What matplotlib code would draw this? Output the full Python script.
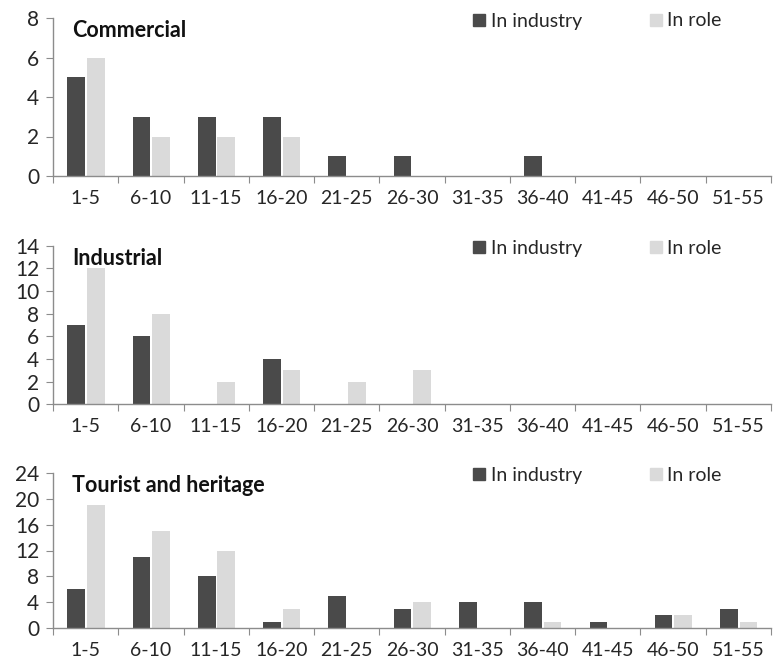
import matplotlib
matplotlib.use("Agg")
import matplotlib.pyplot as plt
import numpy as np
from matplotlib.ticker import FixedLocator, MultipleLocator
from matplotlib.transforms import offset_copy
from matplotlib.lines import Line2D

plt.rcParams['font.family'] = ['Lato', 'DejaVu Sans']

categories = ["1-5", "6-10", "11-15", "16-20", "21-25", "26-30",
              "31-35", "36-40", "41-45", "46-50", "51-55"]

commercial_industry = [5, 3, 3, 3, 1, 1, 0, 1, 0, 0, 0]
commercial_role = [6, 2, 2, 2, 0, 0, 0, 0, 0, 0, 0]

industrial_industry = [7, 6, 0, 4, 0, 0, 0, 0, 0, 0, 0]
industrial_role = [12, 8, 2, 3, 2, 3, 0, 0, 0, 0, 0]

tourist_industry = [6, 11, 8, 1, 5, 3, 4, 4, 1, 2, 3]
tourist_role = [19, 15, 12, 3, 0, 4, 0, 1, 0, 2, 1]

series_names = ["In industry", "In role"]

panels = [
    ("Commercial", commercial_industry, commercial_role, 8, 2),
    ("Industrial", industrial_industry, industrial_role, 14, 2),
    ("Tourist and heritage", tourist_industry, tourist_role, 24, 4),
]

dark = "#4a4a4a"
light = "#dadada"
axis_col = "#8c8c8c"
text_col = "#262626"

fig = plt.figure(figsize=(7.76, 6.68), dpi=100)
left, right = 53 / 776, 771 / 776
bounds = [(18, 176), (245.7, 404.3), (472.7, 628.3)]

for (title, ind, role, ymax, step), (ytop, ybot) in zip(panels, bounds):
    ax = fig.add_axes([left, 1 - ybot / 668, right - left, (ybot - ytop) / 668])
    x = np.arange(len(categories))
    w = 0.27
    ax.bar(x - 0.145, ind, width=w, color=dark, zorder=2)
    ax.bar(x + 0.155, role, width=w, color=light, zorder=2)
    ax.set_xlim(-0.5, len(categories) - 0.5)
    ax.set_ylim(0, ymax)
    ax.yaxis.set_major_locator(MultipleLocator(step))
    ax.xaxis.set_major_locator(FixedLocator(np.arange(-0.5, len(categories), 1.0)))
    ax.set_xticklabels([], minor=False)
    ax.set_xticks(x, categories, minor=True)
    ax.tick_params(axis='x', which='major', length=5, color=axis_col, direction='out')
    ax.tick_params(axis='x', which='minor', length=0, pad=10, labelsize=14, labelcolor=text_col)
    ax.tick_params(axis='y', length=5, color=axis_col, labelsize=15, labelcolor=text_col, pad=5)
    for s in ['top', 'right']:
        ax.spines[s].set_visible(False)
    for s in ['left', 'bottom']:
        ax.spines[s].set_color(axis_col)
        ax.spines[s].set_linewidth(1.0)
    tr = offset_copy(ax.transAxes, fig=fig, x=0, y=-19, units='dots')
    ax.text(19 / 718, 1.0, title, transform=tr, fontsize=15.5,
            fontweight='bold', color='#111111', va='baseline', ha='left')
    handles = [Line2D([], [], ls='none', marker='s', markersize=8,
                      markerfacecolor=c, markeredgecolor=c) for c in (dark, light)]
    ltr = offset_copy(ax.transAxes, fig=fig, x=0, y=-3, units='dots')
    ax.legend(handles, series_names, loc='center left', bbox_to_anchor=(0.585, 1.0),
              bbox_transform=ltr, ncol=2, frameon=False, fontsize=14,
              handlelength=0.6, handletextpad=0.3, columnspacing=3.5,
              borderpad=0, borderaxespad=0, labelcolor=text_col)

fig.savefig("out.png", dpi=100, facecolor="white")
